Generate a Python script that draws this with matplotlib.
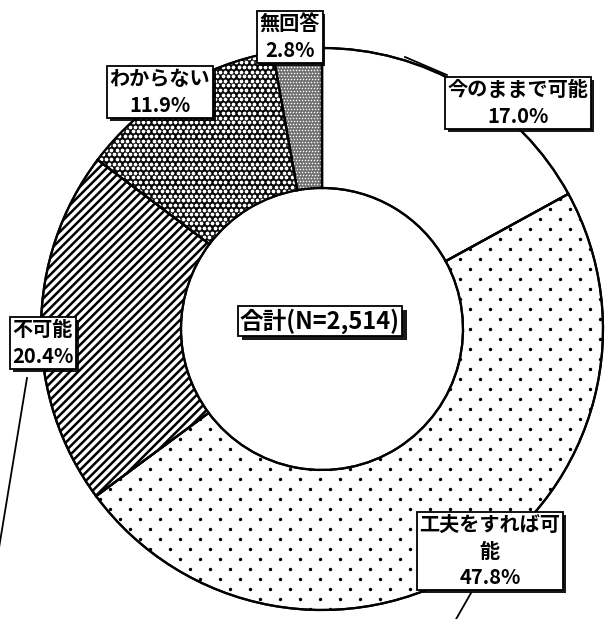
import numpy as np
import matplotlib
matplotlib.use("Agg")
import matplotlib.pyplot as plt
import matplotlib.patches as mpatches
import matplotlib.patheffects as pe

plt.rcParams['font.family'] = ['Noto Sans CJK JP', 'DejaVu Sans']
plt.rcParams['hatch.linewidth'] = 1.8

# ---- data ----
categories = ["今のままで可能", "工夫をすれば可能", "不可能", "わからない", "無回答"]
label_texts = ["今のままで可能", "工夫をすれば可\n能", "不可能", "わからない", "無回答"]
values = [17.0, 47.8, 20.4, 11.9, 2.8]
total_label = "合計(N=2,514)"

W, H = 605, 619
fig = plt.figure(figsize=(W / 100, H / 100), dpi=100)
ax = fig.add_axes([0, 0, 1, 1])

cx, cy, R, ring = 322, 290, 281, 140
facecolors = ["white", "white", "white", "black", "#707070"]
hatches = [None, None, "////", None, None]

wedges, _ = ax.pie(values, startangle=90, counterclock=False, radius=R,
                   center=(cx, cy), colors=facecolors,
                   wedgeprops=dict(width=ring, edgecolor="black", linewidth=1.6))
for w, h in zip(wedges, hatches):
    if h:
        w.set_hatch(h)

ax.set_xlim(0, W)
ax.set_ylim(0, H)
ax.set_aspect("equal")
ax.axis("off")

# texture: sparse dots for 工夫をすれば可能
gx = np.arange(0, W + 20, 20.0)
gy = np.arange(0, H + 10, 10.0)
X, Y = np.meshgrid(gx, gy)
X = X + (np.arange(len(gy))[:, None] % 2) * 10
sc = ax.scatter(X.ravel(), Y.ravel(), s=6, c="black", linewidths=0, zorder=2)
sc.set_clip_path(wedges[1])

# texture: honeycomb for わからない
hx = np.arange(0, W + 6, 5.3)
hy = np.arange(0, H + 6, 4.6)
HX, HY = np.meshgrid(hx, hy)
HX = HX + (np.arange(len(hy))[:, None] % 2) * 2.65
sc2 = ax.scatter(HX.ravel(), HY.ravel(), s=7.5, c="white", linewidths=0, zorder=2)
sc2.set_clip_path(wedges[3])

# texture: fine light specks for 無回答
nx = np.arange(0, W + 3, 3.0)
ny = np.arange(0, H + 3, 3.0)
NX, NY = np.meshgrid(nx, ny)
NX = NX + (np.arange(len(ny))[:, None] % 2) * 1.5
sc3 = ax.scatter(NX.ravel(), NY.ravel(), s=1.2, c="white", linewidths=0, zorder=2)
sc3.set_clip_path(wedges[4])

# redraw outlines on top
for w in wedges:
    o = mpatches.Wedge(w.center, w.r, w.theta1, w.theta2, width=w.width,
                       facecolor="none", edgecolor="black", linewidth=1.6, zorder=3)
    ax.add_patch(o)

# labels
label_pos = [(518, 516), (490, 68), (43, 276), (160, 527), (290, 582)]
shadow = [pe.withSimplePatchShadow(offset=(2, -2), shadow_rgbFace="black", alpha=0.9)]
for txt, v, (lx, ly) in zip(label_texts, values, label_pos):
    t = ax.text(lx, ly, f"{txt}\n{v:.1f}%", ha="center", va="center", ma="center",
                fontsize=14.5, fontweight="bold", linespacing=1.3, zorder=5,
                bbox=dict(boxstyle="square,pad=0.12", facecolor="white",
                          edgecolor="black", linewidth=1.3))
    t.get_bbox_patch().set_path_effects(shadow)

t = ax.text(320, 298, total_label, ha="center", va="center", fontsize=17,
            fontweight="bold", zorder=5,
            bbox=dict(boxstyle="square,pad=0.1", facecolor="white",
                      edgecolor="black", linewidth=1.3))
t.get_bbox_patch().set_path_effects(
    [pe.withSimplePatchShadow(offset=(3, -3), shadow_rgbFace="black", alpha=0.9)])

# leader lines
leaders = [((405, 562), (447, 544)), ((27, 241), (-3, 59)), ((471, 26), (455, -2))]
for (x0, y0), (x1, y1) in leaders:
    ax.plot([x0, x1], [y0, y1], color="black", linewidth=1.3, zorder=4)

fig.savefig("out.png", dpi=100)
